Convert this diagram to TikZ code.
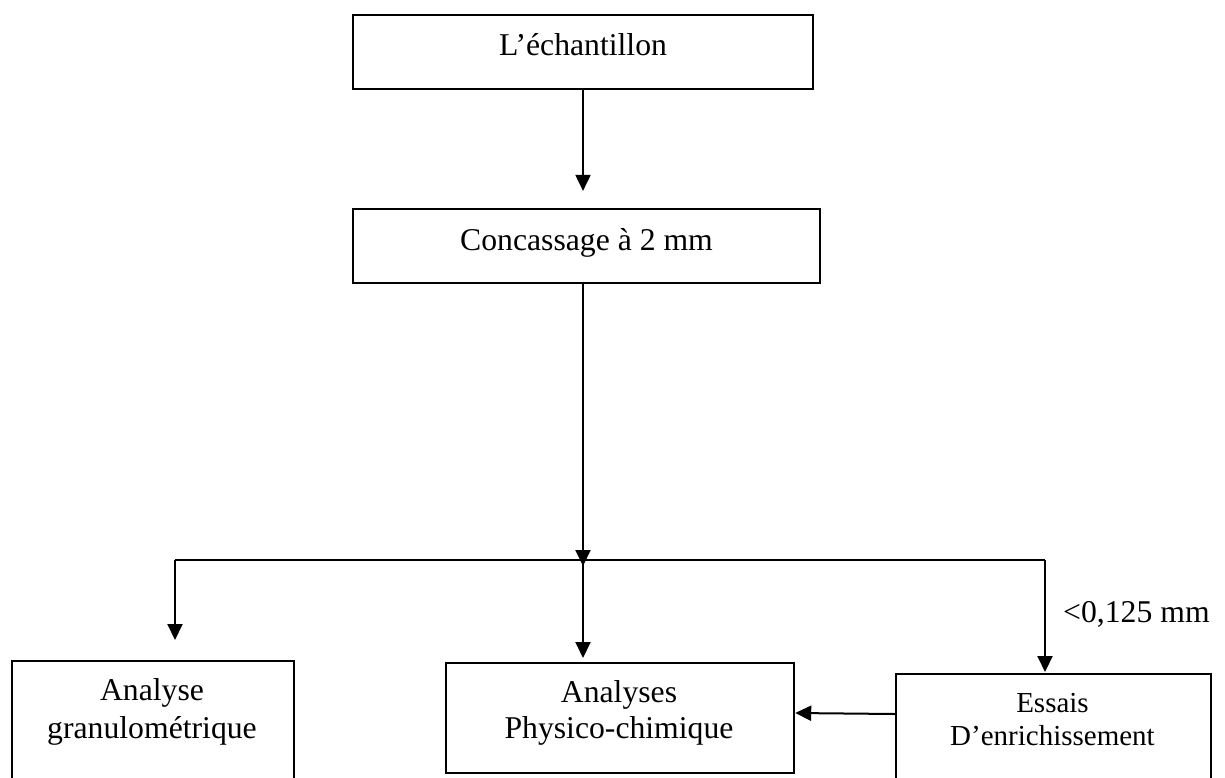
\documentclass[tikz,border=0pt]{standalone}
\usepackage{fontspec}
\setmainfont{Liberation Serif}
\usetikzlibrary{arrows.meta}
\begin{document}
\begin{tikzpicture}[x=1pt,y=-1pt,
  box/.style={draw, line width=2.2pt, inner sep=0pt},
  txt/.style={font=\fontsize{31.7}{38}\selectfont, inner sep=0pt, anchor=base},
  stxt/.style={font=\fontsize{29}{35}\selectfont, inner sep=0pt, anchor=base},
  arr/.style={line width=2pt, -{Triangle[width=15pt,length=16pt]}},
  ln/.style={line width=2pt}]
\path[clip, use as bounding box] (0,0) rectangle (1225,777);
\fill[white] (0,0) rectangle (1225,777);
% boxes
\node[box, minimum width=460pt, minimum height=74pt] (b1) at (583,52) {};
\node[box, minimum width=467pt, minimum height=74pt] (b2) at (586.5,246) {};
\node[box, minimum width=282pt, minimum height=140pt, anchor=north west] (b3) at (11,660) {};
\node[box, minimum width=348pt, minimum height=110pt, anchor=north west] (b4) at (445,662) {};
\node[box, minimum width=315pt, minimum height=140pt, anchor=north west] (b5) at (895,673) {};
% texts
\node[txt] (t1) at (583,55) {L’échantillon};
\node[txt] (t2) at (586.5,250) {Concassage à 2 mm};
\node[txt] (t3a) at (152,700) {Analyse};
\node[txt] (t3b) at (152,738) {granulométrique};
\node[txt] (t4a) at (619,702) {Analyses};
\node[txt] (t4b) at (619,738) {Physico-chimique};
\node[stxt] (t5a) at (1052.5,712) {Essais};
\node[stxt] (t5b) at (1052.5,745) {D’enrichissement};
\node[txt, anchor=base west] (lab) at (1063,622) {<0,125 mm};
% junction points
\coordinate (J) at (583,560);
\coordinate (L) at (175,560);
\coordinate (R) at (1045,560);
% connectors
\draw[arr, shorten >=17pt] (b1.south) -- (b1.south |- b2.north);
\draw[arr, shorten >=-6pt] (J |- b2.south) -- (J);
\draw[ln] (L) -- (R);
\draw[arr, shorten >=20pt] (L) -- (L |- b3.north);
\draw[arr, shorten >=4pt] (J) -- (J |- b4.north);
\draw[arr, shorten >=1pt] (R) -- (R |- b5.north);
\draw[arr] ([yshift=-41pt]b5.north west) -- ([yshift=-51pt]b4.north east);
\end{tikzpicture}
\end{document}
